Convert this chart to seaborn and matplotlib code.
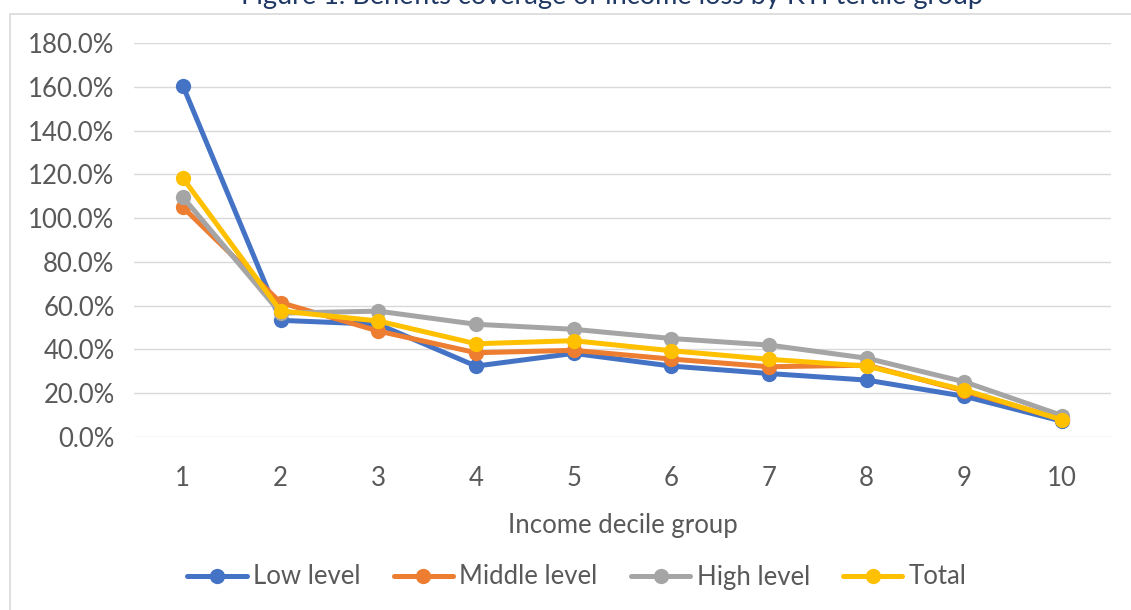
import matplotlib
matplotlib.use("Agg")
import matplotlib.pyplot as plt
from matplotlib.patches import Rectangle
from matplotlib.ticker import PercentFormatter
import seaborn as sns
import pandas as pd

# Income decile groups
deciles = [1, 2, 3, 4, 5, 6, 7, 8, 9, 10]

# Benefits coverage of income loss (%) by tertile group
low_level = [160.5, 53.3, 51.5, 32.4, 38.2, 32.4, 29.0, 26.0, 18.6, 7.2]
middle_level = [105.0, 61.4, 48.4, 38.5, 39.6, 35.6, 32.1, 32.8, 21.0, 8.0]
high_level = [109.6, 56.6, 57.5, 51.5, 49.2, 45.0, 42.0, 36.0, 25.2, 9.8]
total = [118.3, 57.6, 53.0, 42.6, 44.0, 39.4, 35.5, 32.4, 21.5, 7.8]

series_names = ["Low level", "Middle level", "High level", "Total"]
colors = ["#4472C4", "#ED7D31", "#A5A5A5", "#FFC000"]

title = "Figure 1. Benefits coverage of income loss by KTI tertile group"
x_label = "Income decile group"
y_ticks = [0, 20, 40, 60, 80, 100, 120, 140, 160, 180]

df = pd.DataFrame({
    "decile": deciles * 4,
    "value": low_level + middle_level + high_level + total,
    "group": sum([[n] * len(deciles) for n in series_names], []),
})

sns.set_theme(style="white")
plt.rcParams["font.family"] = ["Lato", "DejaVu Sans"]
text_color = "#595959"
line_w = 3.6
marker_s = 11

fig = plt.figure(figsize=(11.31, 6.10), dpi=100)
W, H = 1131, 610

# Chart frame
fig.patches.append(Rectangle((10 / W, -0.2), 1.2, 1 - 13.5 / H + 0.2,
                             transform=fig.transFigure, fill=False,
                             edgecolor="#D9D9D9", linewidth=1.2, zorder=0))

ax = fig.add_axes([134 / W, 1 - 437 / H, (1111 - 134) / W, (437 - 43) / H])

sns.lineplot(data=df, x="decile", y="value", hue="group",
             hue_order=series_names, palette=colors, marker="o",
             markersize=marker_s, markeredgewidth=0, linewidth=line_w,
             solid_capstyle="round", solid_joinstyle="round",
             ax=ax, legend=False, zorder=3)

ax.set_xlim(0.5, 10.5)
ax.set_ylim(0, 180)
ax.set_yticks(y_ticks)
ax.set_xticks(deciles)
ax.yaxis.set_major_formatter(PercentFormatter(decimals=1))
ax.grid(axis="y", color="#D9D9D9", linewidth=1.0)
ax.set_axisbelow(True)
for s in ax.spines.values():
    s.set_visible(False)
ax.tick_params(axis="both", length=0, labelsize=18.5, colors=text_color)
ax.tick_params(axis="y", pad=14)
ax.tick_params(axis="x", pad=21)
ax.set_xlabel(x_label, fontsize=18.5, color=text_color, labelpad=16)
ax.set_ylabel("")

fig.text(612 / W, 1 - 4 / H, title, ha="center", va="baseline",
         fontsize=19.5, color="#1F3864")

handles = [plt.Line2D([], [], color=c, linewidth=line_w, marker="o",
                      markersize=marker_s, markeredgewidth=0,
                      solid_capstyle="round") for c in colors]
fig.legend(handles, series_names, loc="center", ncol=4,
           bbox_to_anchor=(577 / W, 1 - 577 / H), frameon=False,
           fontsize=18.5, labelcolor=text_color, handlelength=2.3,
           handletextpad=0.25, columnspacing=1.3)

fig.savefig("out.png", dpi=100)
